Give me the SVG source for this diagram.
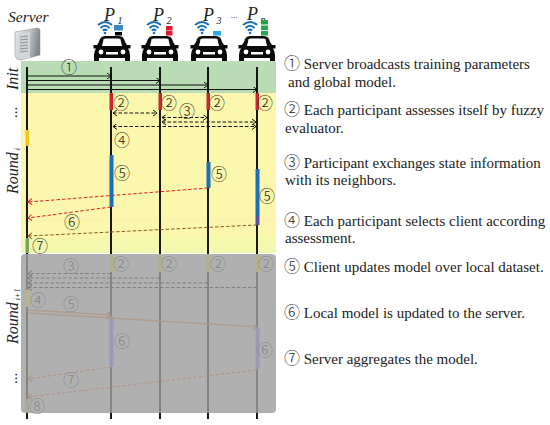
<svg xmlns="http://www.w3.org/2000/svg" width="550" height="425" viewBox="0 0 550 425">
<style>
.t{font-family:"Liberation Serif","Noto Sans CJK SC",serif;font-size:15px;fill:#222}
.n{font-family:"Noto Sans CJK SC","DejaVu Sans",sans-serif;font-size:16px;font-weight:300}
.c{font-family:"Noto Sans CJK SC","DejaVu Sans",sans-serif;font-size:16px;fill:#222;text-anchor:middle;font-weight:300}
.cg{fill:#858585}
.h{font-family:"Liberation Serif",serif;font-style:italic;fill:#222}
.life{stroke:#000;stroke-width:1.8;fill:none}
.sol{stroke:#111;stroke-width:1.1;fill:none;marker-end:url(#a)}
.dash{stroke:#111;stroke-width:1.2;stroke-dasharray:3.5 2;fill:none;marker-end:url(#a);marker-start:url(#as)}
.red{stroke:#e0202a;stroke-width:1;stroke-dasharray:3.5 2;fill:none;marker-end:url(#ar)}
.brn{stroke:#8a5a2a;stroke-width:1;stroke-dasharray:3.5 2;fill:none;marker-end:url(#ab)}
.gd{stroke:#808080;stroke-width:1.2;stroke-dasharray:3.5 2;fill:none;marker-end:url(#ag)}
.gs{stroke:#b09c8c;stroke-width:1.3;fill:none;marker-end:url(#at)}
.gb{stroke:#b3968a;stroke-width:1.1;stroke-dasharray:3.5 2;fill:none;marker-end:url(#at)}
.wifi{stroke:#1f6fb5;stroke-width:2;fill:none}
</style>
<defs>
<marker id="a" markerWidth="7" markerHeight="7" refX="5" refY="3" orient="auto" markerUnits="userSpaceOnUse"><path d="M1 0L5 3L1 6" fill="none" stroke="#111"/></marker>
<marker id="as" markerWidth="7" markerHeight="7" refX="1" refY="3" orient="auto" markerUnits="userSpaceOnUse"><path d="M5 0L1 3L5 6" fill="none" stroke="#111"/></marker>
<marker id="ar" markerWidth="7" markerHeight="7" refX="5" refY="3" orient="auto" markerUnits="userSpaceOnUse"><path d="M1 0L5 3L1 6" fill="none" stroke="#e0202a"/></marker>
<marker id="ab" markerWidth="7" markerHeight="7" refX="5" refY="3" orient="auto" markerUnits="userSpaceOnUse"><path d="M1 0L5 3L1 6" fill="none" stroke="#8a5a2a"/></marker>
<marker id="ag" markerWidth="7" markerHeight="7" refX="5" refY="3" orient="auto" markerUnits="userSpaceOnUse"><path d="M1 0L5 3L1 6" fill="none" stroke="#777"/></marker>
<marker id="at" markerWidth="7" markerHeight="7" refX="5" refY="3" orient="auto" markerUnits="userSpaceOnUse"><path d="M1 0L5 3L1 6" fill="none" stroke="#a8907f"/></marker>
<linearGradient id="srv" x1="0" x2="1" y1="0" y2="0.2"><stop offset="0" stop-color="#e4e6e8"/><stop offset=".6" stop-color="#c0c4c8"/><stop offset="1" stop-color="#83888c"/></linearGradient>
<g id="car">
<path d="M-13 -13Q-12 -19 -7 -19H7Q12 -19 13 -13L15 -10H18.500V-6.500H16Q18 -4 18 0V6H13V3H-13V6H-18V0Q-18 -4 -16 -6.500H-18.500V-10H-15Z" fill="#0a0a0a"/>
<path d="M-10 -9L-8.500 -15.500Q-8 -16.500 -6 -16.500H6Q8 -16.500 8.500 -15.500L10 -9Z" fill="#fff"/>
<circle cx="-11" cy="-3" r="2.400" fill="#fff"/><circle cx="11" cy="-3" r="2.400" fill="#fff"/>
<rect x="-6" y="-3" width="12" height="2.500" fill="#fff"/>
</g>
<g id="wf">
<path class="wifi" d="M-7 -3Q0 -9 7 -3"/><path class="wifi" d="M-4.500 0Q0 -4.500 4.500 0"/><path class="wifi" d="M-2.200 2.500Q0 .8 2.200 2.500"/><circle cx="0" cy="5" r="1.300" fill="#1f6fb5"/>
</g>
</defs>
<rect width="550" height="425" fill="#fff"/>

<g id="bands">
<rect x="21" y="61" width="255" height="32" fill="#b9dcb4"/>
<rect x="21" y="93" width="255" height="160" fill="#fbf7ac"/>
<rect x="21" y="217" width="255" height="5" fill="#fbf3ae"/>
<rect x="21" y="238" width="255" height="15" fill="#f3f8ae"/>
</g>

<g id="connectors">
<path class="life" d="M27 67V419M111 67V419M160 67V419M208 67V419M257 67V419"/>
<path class="sol" d="M27 76H111"/><path class="sol" d="M27 80.500H160"/><path class="sol" d="M27 85H208"/><path class="sol" d="M27 89.500H257"/>
<path class="dash" d="M113 113H157"/><path class="dash" d="M162 117.500H207"/><path class="dash" d="M162 122H256"/><path class="dash" d="M113 126.500H256"/>
<path class="red" d="M208 188L28 202"/><path class="red" d="M111 207L28 218"/><path class="brn" d="M257 225L28 236"/>
</g>

<g id="bars">
<rect x="109.500" y="93" width="3.500" height="17" fill="#c9262c"/><rect x="158.500" y="93" width="3.500" height="17" fill="#c9262c"/><rect x="206.500" y="93" width="3.500" height="17" fill="#c9262c"/><rect x="255.500" y="93" width="3.500" height="17" fill="#c9262c"/>
<rect x="25.500" y="130" width="3.500" height="16" fill="#f5c02a"/>
<rect x="109.500" y="155" width="4" height="52" fill="#1a6fb5"/>
<rect x="206.500" y="162" width="4" height="26" fill="#1a6fb5"/>
<rect x="255.500" y="169" width="4" height="47" fill="#1a6fb5"/><rect x="255.500" y="216" width="4" height="9" fill="#5a4fa5"/>
<rect x="25.500" y="238" width="3.500" height="15" fill="#7ba55a"/>
</g>

<g id="overlay">
<rect x="21" y="254" width="255" height="159" rx="4" fill="#9e9e9e" fill-opacity=".81"/>
</g>

<g id="connectors-faded">
<rect x="109.500" y="254" width="3.500" height="18" fill="#b3b088"/><rect x="158.500" y="254" width="3.500" height="18" fill="#b3b088"/><rect x="206.500" y="254" width="3.500" height="18" fill="#b3b088"/><rect x="255.500" y="254" width="3.500" height="18" fill="#b3b088"/>
<rect x="25.500" y="290" width="3.500" height="17" fill="#b8b48c"/>
<rect x="109.500" y="316" width="4" height="51" fill="#9a9ab8"/>
<rect x="255.500" y="328" width="4" height="41" fill="#9a9ab8"/>
<rect x="25.500" y="399" width="3.500" height="14" fill="#a8a89a"/>
<path class="gd" d="M111 273.500H28"/><path class="gd" d="M160 278H28"/><path class="gd" d="M208 283H28"/><path class="gd" d="M257 287.500H28"/>
<path class="gs" d="M28 310L111 315"/><path class="gs" d="M28 313L257 327"/>
<path class="gb" d="M111 367L28 379"/><path class="gb" d="M257 370L28 397"/>
</g>

<g id="server">
<path d="M15 32L37 28Q40 28 40 31V55L21 60Q16 60 15 56Z" fill="url(#srv)" stroke="#8a8a8a" stroke-width=".5"/>
<path d="M18 34L30 32V58L19 59Z" fill="#d3d6d9"/>
<path d="M20 37L28 36M20 40L28 39M20 43L28 42M20 46L28 45M20 49L28 48M20 52L28 51" stroke="#8b9095" stroke-width="1"/>
<text class="h" x="8" y="22" font-size="15.500">Server</text>
</g>

<g id="p1"><text class="h" x="104" y="21" font-size="18">P<tspan font-size="10" dy="3"> 1</tspan></text><use href="#wf" x="105" y="28"/><rect x="114" y="25" width="9" height="5.500" fill="#3f86c6"/><rect x="115" y="32" width="7" height="3.500" fill="#000"/><use href="#car" x="112" y="55"/></g>
<g id="p2"><text class="h" x="153" y="21" font-size="18">P<tspan font-size="10" dy="3"> 2</tspan></text><use href="#wf" x="154" y="28"/><rect x="166" y="26" width="6.500" height="4.500" fill="#e3162b"/><rect x="166" y="31" width="6.500" height="4.500" fill="#e3162b"/><use href="#car" x="160" y="55"/></g>
<g id="p3"><text class="h" x="203" y="21" font-size="18">P<tspan font-size="10" dy="3"> 3</tspan></text><use href="#wf" x="202" y="28"/><rect x="213" y="31" width="8" height="4.500" fill="#29abe2"/><use href="#car" x="209" y="55"/></g>
<g id="pn"><text class="h" x="247" y="20" font-size="18">P<tspan font-size="10" dy="3"> n</tspan></text><use href="#wf" x="250" y="28"/><rect x="261" y="20" width="7" height="4.500" fill="#22a84a"/><rect x="261" y="25.500" width="7" height="4.500" fill="#22a84a"/><rect x="261" y="31" width="7" height="4.500" fill="#22a84a"/><use href="#car" x="257" y="55"/></g>
<text class="h" x="231" y="18" font-size="9" fill="#888">...</text>

<g id="side-labels">
<text class="h" font-size="16" transform="translate(18 90) rotate(-90)">Init</text>
<text class="t" font-size="14" transform="translate(17 118) rotate(-90)">...</text>
<text class="h" font-size="16" transform="translate(18 194) rotate(-90)">Round<tspan font-size="8" dy="2"> i</tspan></text>
<text class="h" font-size="16" transform="translate(18 344) rotate(-90)">Round<tspan font-size="8" dy="2"> i+1</tspan></text>
<text class="t" font-size="14" transform="translate(17 384) rotate(-90)">...</text>
</g>

<g id="marks">
<text class="c" x="69" y="73">①</text>
<text class="c" x="121" y="109">②</text><text class="c" x="169" y="109">②</text><text class="c" x="217" y="109">②</text><text class="c" x="265" y="109">②</text>
<text class="c" x="187" y="117">③</text><text class="c" x="122" y="146">④</text>
<text class="c" x="122" y="179">⑤</text><text class="c" x="219" y="180">⑤</text><text class="c" x="267" y="202">⑤</text>
<text class="c" x="72" y="228">⑥</text><text class="c" x="40" y="252">⑦</text>
<text class="c cg" x="71" y="272">③</text>
<text class="c cg" x="121" y="270">②</text><text class="c cg" x="169" y="270">②</text><text class="c cg" x="218" y="270">②</text><text class="c cg" x="266" y="270">②</text>
<text class="c cg" x="38" y="306">④</text><text class="c cg" x="71" y="310">⑤</text>
<text class="c cg" x="122" y="347">⑥</text><text class="c cg" x="265" y="356">⑥</text>
<text class="c cg" x="71" y="386">⑦</text><text class="c cg" x="37" y="412">⑧</text>
</g>

<g id="legend">
<text class="t" x="284" y="69"><tspan class="n">①</tspan> Server broadcasts training parameters</text>
<text class="t" x="288" y="87">and global model.</text>
<text class="t" x="284" y="115"><tspan class="n">②</tspan> Each participant assesses itself by fuzzy</text>
<text class="t" x="285" y="133">evaluator.</text>
<text class="t" x="284" y="168"><tspan class="n">③</tspan> Participant exchanges state information</text>
<text class="t" x="285" y="185">with its neighbors.</text>
<text class="t" x="284" y="226"><tspan class="n">④</tspan> Each participant selects client according</text>
<text class="t" x="285" y="243">assessment.</text>
<text class="t" x="284" y="272"><tspan class="n">⑤</tspan> Client updates model over local dataset.</text>
<text class="t" x="284" y="318"><tspan class="n">⑥</tspan> Local model is updated to the server.</text>
<text class="t" x="284" y="364"><tspan class="n">⑦</tspan> Server aggregates the model.</text>
</g>
</svg>
